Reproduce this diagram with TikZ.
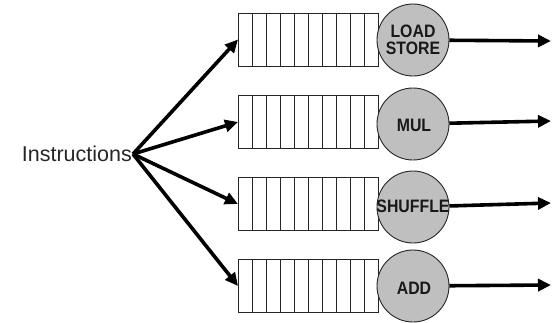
\documentclass[tikz,border=0pt]{standalone}
\usepackage{fontspec}
\setmainfont{Liberation Sans}
\usetikzlibrary{arrows.meta}

\definecolor{unitfill}{HTML}{BFBFBF}
\definecolor{edge}{HTML}{262626}

\newcommand\squeezed[1]{\scalebox{0.88}[1]{#1}}

\begin{document}
\begin{tikzpicture}[x=1pt,y=-1pt,
  queuebox/.style={draw=edge,line width=1pt,rectangle,minimum width=140pt,minimum height=53pt,inner sep=0pt,outer sep=0pt},
  unit/.style={draw=edge,line width=0.9pt,circle,fill=unitfill,minimum size=72pt,inner sep=0pt},
  unitlbl/.style={font=\bfseries\fontsize{18}{17}\selectfont,align=center,inner sep=0pt,text=black!90},
  flow/.style={line width=3.6pt,-{Triangle[length=13pt,width=12pt]}},
]
\useasboundingbox (0,0) rectangle (552,322);

% instruction source
\node[anchor=east,inner sep=0pt,font=\fontsize{21.5}{21.5}\selectfont,text=black!85] (instr) at (132,154) {Instructions};
\coordinate (fan) at (133,154);

% issue queues, ten slots each
\foreach \i/\y in {1/39.5,2/122,3/204,4/286}{
  \node[queuebox] (q\i) at (308,\y) {};
  \foreach \k in {1,...,9}{
    \draw[edge,line width=1pt] ([xshift=\k*14pt]q\i.north west) -- ([xshift=\k*14pt]q\i.south west);
  }
}

% execution units
\node[unit] (c1) at (413,40) {};
\node[unit] (c2) at (413,124) {};
\node[unit] (c3) at (413,207) {};
\node[unit] (c4) at (413,286) {};
\node[unitlbl] (t1) at (413,39.5) {\squeezed{LOAD}\\\squeezed{STORE}};
\node[unitlbl] (t2) at (414,125) {\squeezed{MUL}};
\node[unitlbl] (t3) at (413,206.5) {\squeezed{SHUFFLE}};
\node[unitlbl] (t4) at (414,288) {\squeezed{ADD}};

% dispatch from the instruction stream to the queues
\foreach \i in {1,...,4}{
  \draw[flow] (fan) -- (q\i.west);
}

% results leaving each unit
\coordinate (o1) at (551,41);
\coordinate (o2) at (551,121);
\coordinate (o3) at (551,203);
\coordinate (o4) at (551,285);
\foreach \i in {1,...,4}{
  \draw[flow] (c\i) -- (o\i);
}
\end{tikzpicture}
\end{document}
